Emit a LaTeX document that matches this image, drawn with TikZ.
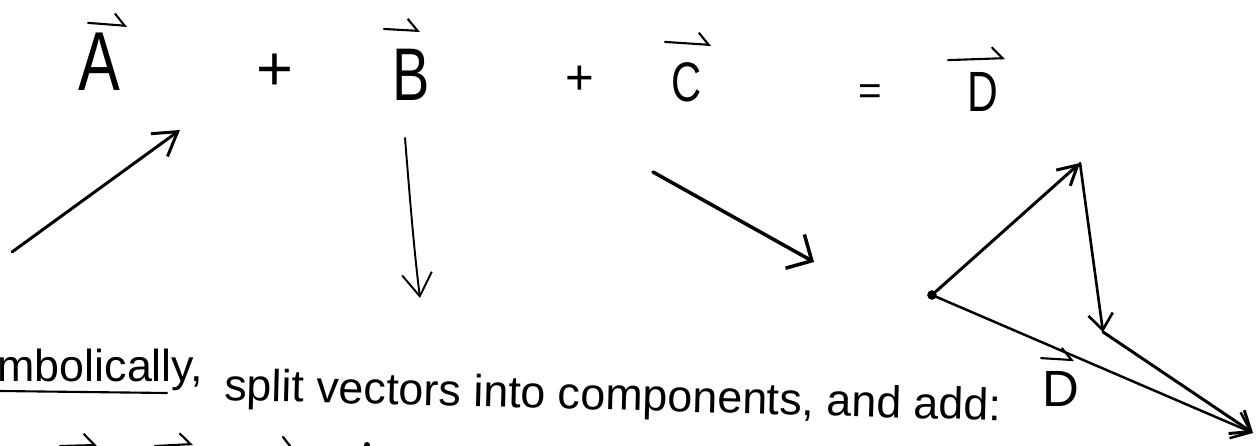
\documentclass[tikz,border=0pt]{standalone}
\usepackage{fontspec}
\usetikzlibrary{arrows.meta, positioning, calc}
\newfontfamily\handfont{Liberation Sans}
\newfontfamily\handnarrow[FakeStretch=0.75]{Liberation Sans}

\begin{document}
\begin{tikzpicture}[x=0.02cm, y=-0.02cm,
    vecletter/.style={font=\handnarrow\fontsize{#1}{#1}\selectfont, inner sep=0pt},
    sign/.style={font=\handfont\fontsize{#1}{#1}\selectfont, inner sep=0pt},
    txt/.style={font=\handfont\fontsize{25.5pt}{30pt}\selectfont, inner sep=0pt},
    hat/.style={line width=1.2pt, line cap=round, -{Straight Barb[harpoon, length=6pt, width=13pt]}},
    ink/.style={line width=#1, line cap=round, line join=round},
    dot/.style={circle, fill, inner sep=0pt, minimum size=5.5pt}
  ]
  \useasboundingbox (0,0) rectangle (1258,446);
  \clip (0,0) rectangle (1258,446);

  % top row
  \node[vecletter=47.6pt] (A) at (99,62) {A};
  \node[sign=36pt] (plus1) at (275,72) {+};
  \node[vecletter=42.5pt] (B) at (411,75) {B};
  \node[sign=28pt] (plus2) at (580,80) {+};
  \node[vecletter=31.7pt] (C) at (687,82) {C};
  \node[sign=23pt] (eq) at (870,95) {=};
  \node[vecletter=32.3pt] (D) at (983,92) {D};

  \draw[hat] ([shift={(-11,-10)}]A.north) -- ([shift={(28,-7)}]A.north);
  \draw[hat] ([shift={(-27,-20)}]B.north) -- ([shift={(9,-18)}]B.north);
  \draw[hat] ([shift={(-22,-20)}]C.north) -- ([shift={(24,-17)}]C.north);
  \draw[hat] ([shift={(-35,-12)}]D.north) -- ([shift={(22,-14)}]D.north);

  % the three vectors
  \coordinate (a0) at (12,252);
  \coordinate (a1) at (180,130);
  \draw[ink=1.7pt, -{Straight Barb[length=13pt, width=16pt]}] (a0) -- (a1);

  \coordinate (b0) at (405,138);
  \coordinate (b1) at (420,298);
  \draw[ink=1.1pt, -{Straight Barb[length=13pt, width=17pt]}] (b0) .. controls (410,200) and (414,250) .. (b1);

  \coordinate (c0) at (653,172);
  \coordinate (c1) at (814,262);
  \draw[ink=2pt, -{Straight Barb[length=11pt, width=22pt]}] (c0) -- (c1);

  % head to tail
  \node[dot] (o) at (932,295) {};
  \coordinate (p1) at (1080,163);
  \coordinate (p2) at (1103,332);
  \coordinate (p3) at (1253,433);
  \draw[ink=1.7pt, -{Straight Barb[length=11pt, width=12pt]}] (o) -- (p1);
  \draw[ink=1.5pt, -{Straight Barb[length=9pt, width=14pt]}] (p1) -- (p2);
  \draw[ink=1.7pt, -{Straight Barb[length=10pt, width=16pt]}] (p2) -- (p3);
  \draw[ink=1.4pt, -{Straight Barb[length=10pt, width=16pt]}] (o) -- (p3);

  % text line
  \node[txt, anchor=base west] (symb) at (-55,381) {Symbolically,};
  \draw[ink=1.2pt] (0,391) -- (167,393);
  \node[txt, anchor=base west, rotate=-1.5] (split) at (224,400) {split vectors into components, and add:};
  \node[font=\handfont\fontsize{29pt}{29pt}\selectfont, inner sep=0pt] (Dsum) at (1061,389) {D};
  \draw[hat] ([shift={(-20,-13)}]Dsum.north) -- ([shift={(13,-11)}]Dsum.north);

  % start of the next line, cut off
  \coordinate (f0) at (60,446);
  \coordinate (f1) at (97,445);
  \draw[hat] (f0) -- (f1);
  \coordinate (g0) at (155,446);
  \coordinate (g1) at (193,444);
  \draw[hat] (g0) -- (g1);
  \draw[ink=1.3pt] (283,437) -- (290,446);
  \fill (367,445) circle (3);
\end{tikzpicture}
\end{document}
